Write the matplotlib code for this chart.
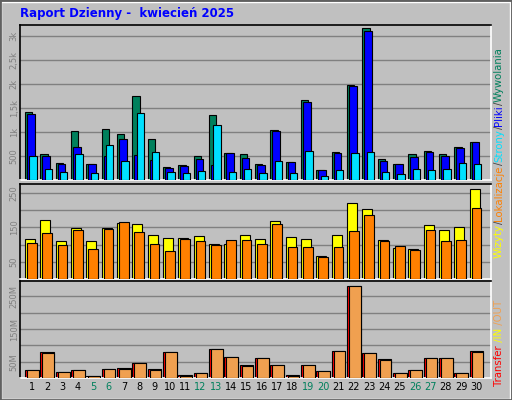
import matplotlib
matplotlib.use("Agg")
import matplotlib.pyplot as plt
from matplotlib.patches import Rectangle

days = list(range(1, 31))
weekend = [5, 6, 12, 13, 19, 20, 26, 27]

hits = [1417, 542, 354, 1021, 333, 1069, 965, 1757, 861, 271, 313, 493, 1361, 563, 542,
        333, 1049, 375, 1674, 208, 590, 1986, 3174, 438, 333, 542, 611, 542, 694, 799]
files = [1375, 500, 333, 694, 333, 500, 861, 521, 417, 243, 292, 438, 313, 563, 458,
         313, 1021, 375, 1625, 208, 563, 1965, 3111, 396, 333, 479, 583, 500, 667, 792]
pages = [500, 229, 167, 542, 146, 729, 396, 1396, 583, 167, 146, 188, 1146, 167, 229,
         146, 396, 146, 604, 83, 208, 563, 583, 167, 125, 229, 208, 229, 354, 333]
visits = [115, 172, 109, 148, 109, 148, 163, 160, 127, 118, 118, 124, 103, 103, 127,
          115, 169, 121, 115, 67, 127, 220, 202, 112, 91, 88, 157, 142, 151, 262]
sites = [106, 133, 100, 142, 88, 145, 166, 136, 103, 82, 115, 109, 100, 112, 112,
         103, 160, 94, 94, 64, 94, 139, 187, 109, 97, 85, 142, 109, 112, 205]
kbytes = [26, 79, 17, 26, 7, 29, 32, 45, 29, 79, 10, 14, 89, 64, 39,
          60, 39, 10, 39, 20, 82, 282, 76, 57, 14, 23, 60, 60, 14, 82]
kb_out = [26, 76, 17, 26, 6, 29, 29, 45, 26, 79, 7, 14, 89, 64, 36,
          60, 39, 7, 39, 20, 82, 282, 76, 54, 14, 23, 60, 60, 14, 79]

BG = "#c0c0c0"
fig = plt.figure(figsize=(5.12, 4.0), dpi=100, facecolor=BG)
fig.patches.append(Rectangle((1 / 512, 1 / 400), 509 / 512, 397 / 400, transform=fig.transFigure,
                             fill=False, edgecolor="white", lw=1))
fig.patches.append(Rectangle((0, 0), 1, 1, transform=fig.transFigure,
                             fill=False, edgecolor="#606060", lw=2))

fig.text(20 / 512, 1 - 14 / 400, "Raport Dzienny -  kwiecień 2025", color="#0000ff",
         fontsize=8.5, fontweight="bold", va="center", ha="left")


def make_ax(top, bottom):
    ax = fig.add_axes([20 / 512, 1 - bottom / 400, 471 / 512, (bottom - top) / 400])
    ax.set_facecolor(BG)
    ax.set_xlim(-0.33, 30.4)
    ax.set_xticks([])
    for s in ["left", "top"]:
        ax.spines[s].set_color("black")
    for s in ["right", "bottom"]:
        ax.spines[s].set_color("white")
    for s in ax.spines.values():
        s.set_linewidth(1.2)
    ax.tick_params(axis="y", length=0, labelsize=6, labelcolor="#808080", pad=1)
    return ax


def grid(ax, vals):
    for v in vals:
        ax.axhline(v, color="#808080", lw=1, zorder=0)


x = [d - 1 for d in days]
kw = dict(align="edge", edgecolor="black", linewidth=0.8)

# top panel: hits / files / pages
ax1 = make_ax(25, 180)
ax1.set_ylim(0, 3236)
grid(ax1, [500, 1000, 1500, 2000, 2500, 3000])
ax1.bar(x, hits, width=0.48, color="#00805c", zorder=2, **kw)
ax1.bar([i + 0.13 for i in x], files, width=0.5, color="#0000ff", zorder=3, **kw)
ax1.bar([i + 0.28 for i in x], pages, width=0.48, color="#00e0ff", zorder=4, **kw)
ax1.set_yticks([500, 1000, 1500, 2000, 2500, 3000])
ax1.set_yticklabels(["500", "1k", "1,5k", "2k", "2,5k", "3k"], rotation=90, va="center")

# middle panel: visits / sites
ax2 = make_ax(184, 279)
ax2.set_ylim(0, 276)
grid(ax2, [50, 100, 150, 200, 250])
ax2.bar(x, visits, width=0.65, color="#ffff00", zorder=2, **kw)
ax2.bar([i + 0.13 for i in x], sites, width=0.63, color="#ff8000", zorder=3, **kw)
ax2.set_yticks([50, 150, 250])
ax2.set_yticklabels(["50", "150", "250"], rotation=90, va="center")

# bottom panel: transfer
ax3 = make_ax(281, 378)
ax3.set_ylim(0, 297)
grid(ax3, [50, 100, 150, 200, 250])
ax3.bar(x, kbytes, width=0.9, color="#ff0000", zorder=2, **kw)
ax3.bar([i + 0.13 for i in x], kb_out, width=0.77, color="#f0a050", zorder=3, **kw)
ax3.set_yticks([50, 150, 250])
ax3.set_yticklabels(["50M", "150M", "250M"], rotation=90, va="center")

for d, xi in zip(days, x):
    ax3.text(xi + 0.45, -0.09, str(d), transform=ax3.get_xaxis_transform(), ha="center",
             va="center", fontsize=7, color="#00805c" if d in weekend else "black")

# rotated legends on the right
fig.canvas.draw()
renderer = fig.canvas.get_renderer()


def stack(pieces, start_y, size):
    y = 1 - start_y / 400
    for txt, col in pieces:
        t = fig.text(499 / 512, y, txt, color=col, rotation=90, fontsize=size,
                     ha="center", va="bottom")
        h = t.get_window_extent(renderer).height
        y += h / 400


stack([("Wizyty", "#ffff00"), ("/", "#404040"), ("Lokalizacje", "#ff8000"), ("/", "#404040"),
       ("Strony", "#00e0ff"), ("/", "#404040"), ("Pliki", "#0000ff"), ("/", "#404040"),
       ("Wywolania", "#00805c")], 258, 7.3)
stack([("Transfer", "#ff0000"), (" /IN", "#ffff00"), (" /OUT", "#f0a050")], 386, 7.3)

fig.savefig("out.png", dpi=100, facecolor=BG)
